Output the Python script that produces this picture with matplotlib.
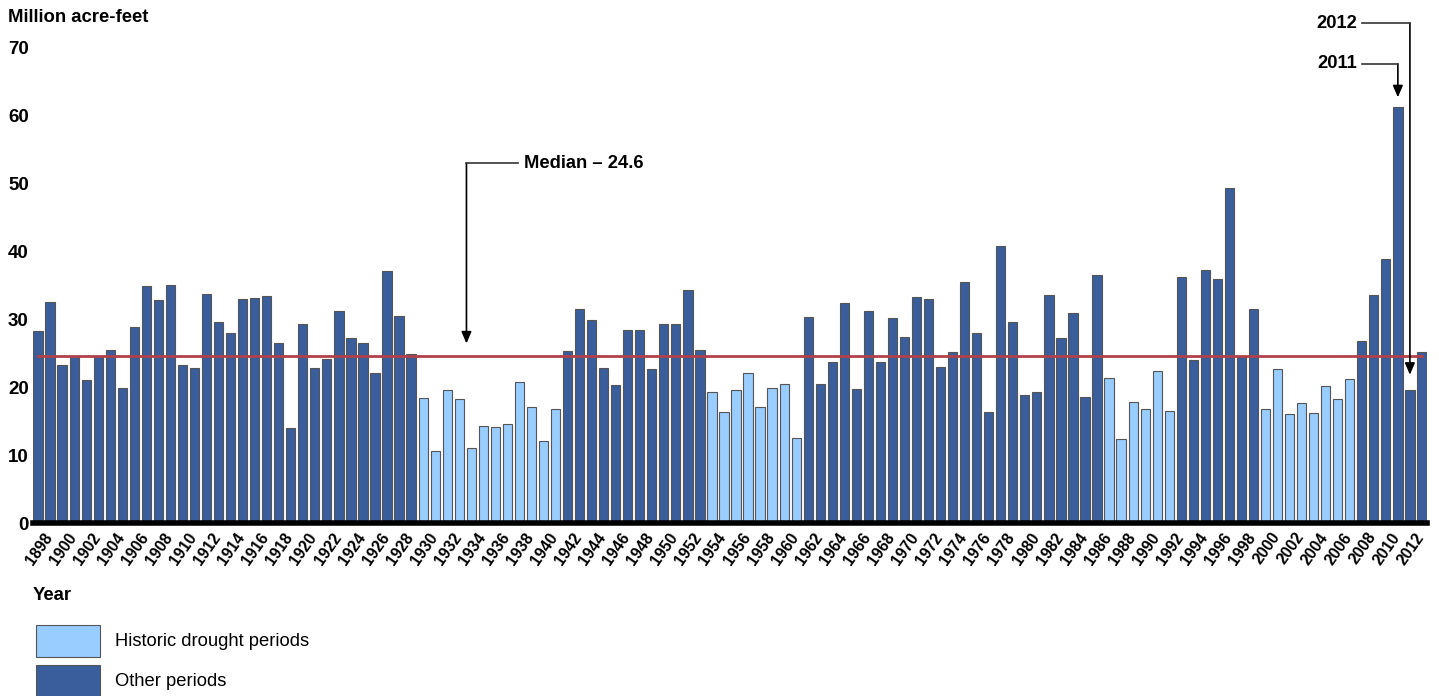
import matplotlib
matplotlib.use("Agg")
import matplotlib.pyplot as plt
from matplotlib.patches import Rectangle
from matplotlib.transforms import ScaledTranslation

# Missouri River runoff, million acre-feet
years = list(range(1898, 2014))
runoff = [28.2, 32.5, 23.2, 24.6, 21.0, 24.6, 25.5, 19.8, 28.8, 34.9,
          32.8, 35.0, 23.2, 22.8, 33.7, 29.6, 28.0, 32.9, 33.1, 33.4,
          26.4, 13.9, 29.2, 22.8, 24.1, 31.2, 27.2, 26.5, 22.0, 37.1,
          30.4, 24.8, 18.4, 10.6, 19.5, 18.2, 11.1, 14.3, 14.1, 14.6,
          20.7, 17.1, 12.0, 16.7, 25.3, 31.5, 29.8, 22.8, 20.3, 28.4,
          28.4, 22.7, 29.2, 29.2, 34.2, 25.4, 19.2, 16.3, 19.5, 22.0,
          17.0, 19.9, 20.4, 12.5, 30.3, 20.4, 23.7, 32.4, 19.7, 31.2,
          23.7, 30.2, 27.4, 33.2, 32.9, 23.0, 25.1, 35.5, 27.9, 16.3,
          40.8, 29.6, 18.8, 19.3, 33.5, 27.2, 30.9, 18.6, 36.4, 21.3,
          12.3, 17.8, 16.7, 22.4, 16.5, 36.2, 23.9, 37.2, 35.9, 49.2,
          24.6, 31.5, 16.7, 22.6, 16.0, 17.7, 16.2, 20.1, 18.2, 21.2,
          26.7, 33.6, 38.8, 61.2, 19.6, 25.1]
drought_periods = [(1930, 1941), (1954, 1961), (1987, 1992), (2000, 2007)]
median = 24.6
tick_years = list(range(1898, 2013, 2))
y_ticks = [0, 10, 20, 30, 40, 50, 60, 70]

dark = "#3a5e9b"
light = "#99ccff"

plt.rcParams['font.family'] = ['Liberation Sans', 'DejaVu Sans']

fig = plt.figure(figsize=(14.39, 6.96), dpi=100)
ax = fig.add_axes([33/1439, 173/696, 1394/1439, 476/696])

def in_drought(y):
    return any(a <= y <= b for a, b in drought_periods)

colors = [light if in_drought(y) else dark for y in years]
ax.bar(years, runoff, width=0.77, color=colors, edgecolor="#555555", linewidth=0.8, zorder=2)
ax.plot([years[0], years[-1]], [median, median], color="#b0414a", lw=2, zorder=3)

ax.set_xlim(1897.58, 2013.42)
ax.set_ylim(0, 70)
for s in ["top", "right", "left"]:
    ax.spines[s].set_visible(False)
ax.spines["bottom"].set_linewidth(4)
ax.spines["bottom"].set_zorder(4)

ax.set_yticks(y_ticks)
ax.set_yticklabels([str(v) for v in y_ticks], fontweight="bold", fontsize=13.5)
ax.tick_params(axis="y", length=0, pad=3)
ax.set_xticks(tick_years)
ax.set_xticklabels([str(y) for y in tick_years], rotation=55, ha="right", va="top",
                   rotation_mode="anchor", fontweight="bold", fontsize=11.3)
ax.tick_params(axis="x", length=0, pad=5)
for lab in ax.get_xticklabels():
    lab.set_transform(lab.get_transform() + ScaledTranslation(5/100, 0, fig.dpi_scale_trans))

line_kw = dict(color="#333333", lw=1.2, clip_on=False, zorder=5)
arrow_kw = dict(arrowstyle="-|>,head_length=0.7,head_width=0.3", color="black",
                lw=1.2, shrinkA=0, shrinkB=0)
ann_font = dict(fontweight="bold", fontsize=13.2)

# median
ax.text(1938.4, 52.9, "Median \u2013 24.6", ha="left", va="center", **ann_font)
ax.plot([1937.9, 1933.6], [52.9, 52.9], **line_kw)
ax.annotate("", xy=(1933.6, 26.4), xytext=(1933.6, 52.9), arrowprops=arrow_kw, annotation_clip=False)

# 2011
ax.text(2007.6, 67.5, "2011", ha="right", va="center", clip_on=False, **ann_font)
ax.plot([2008.0, 2011], [67.5, 67.5], **line_kw)
ax.annotate("", xy=(2011, 62.6), xytext=(2011, 67.5), arrowprops=arrow_kw, annotation_clip=False)

# 2012
ax.text(2007.6, 73.5, "2012", ha="right", va="center", clip_on=False, **ann_font)
ax.plot([2008.0, 2012], [73.5, 73.5], **line_kw)
ax.annotate("", xy=(2012, 21.8), xytext=(2012, 73.5), arrowprops=arrow_kw, annotation_clip=False)

fig.text(8/1439, 1 - 17/696, "Million acre-feet", ha="left", va="center", fontweight="bold", fontsize=13.3)
fig.text(33/1439, 1 - 595/696, "Year", ha="left", va="center", fontweight="bold", fontsize=13.3)

# legend
fig.patches.append(Rectangle((36/1439, 39/696), 64/1439, 32/696, transform=fig.transFigure,
                             facecolor=light, edgecolor="#555555", lw=0.8))
fig.patches.append(Rectangle((36/1439, -1/696), 64/1439, 32/696, transform=fig.transFigure,
                             facecolor=dark, edgecolor="#555555", lw=0.8))
fig.text(115/1439, 1 - 642/696, "Historic drought periods", ha="left", va="center", fontsize=13.2)
fig.text(115/1439, 1 - 682/696, "Other periods", ha="left", va="center", fontsize=13.2)

fig.savefig("out.png", dpi=100)
